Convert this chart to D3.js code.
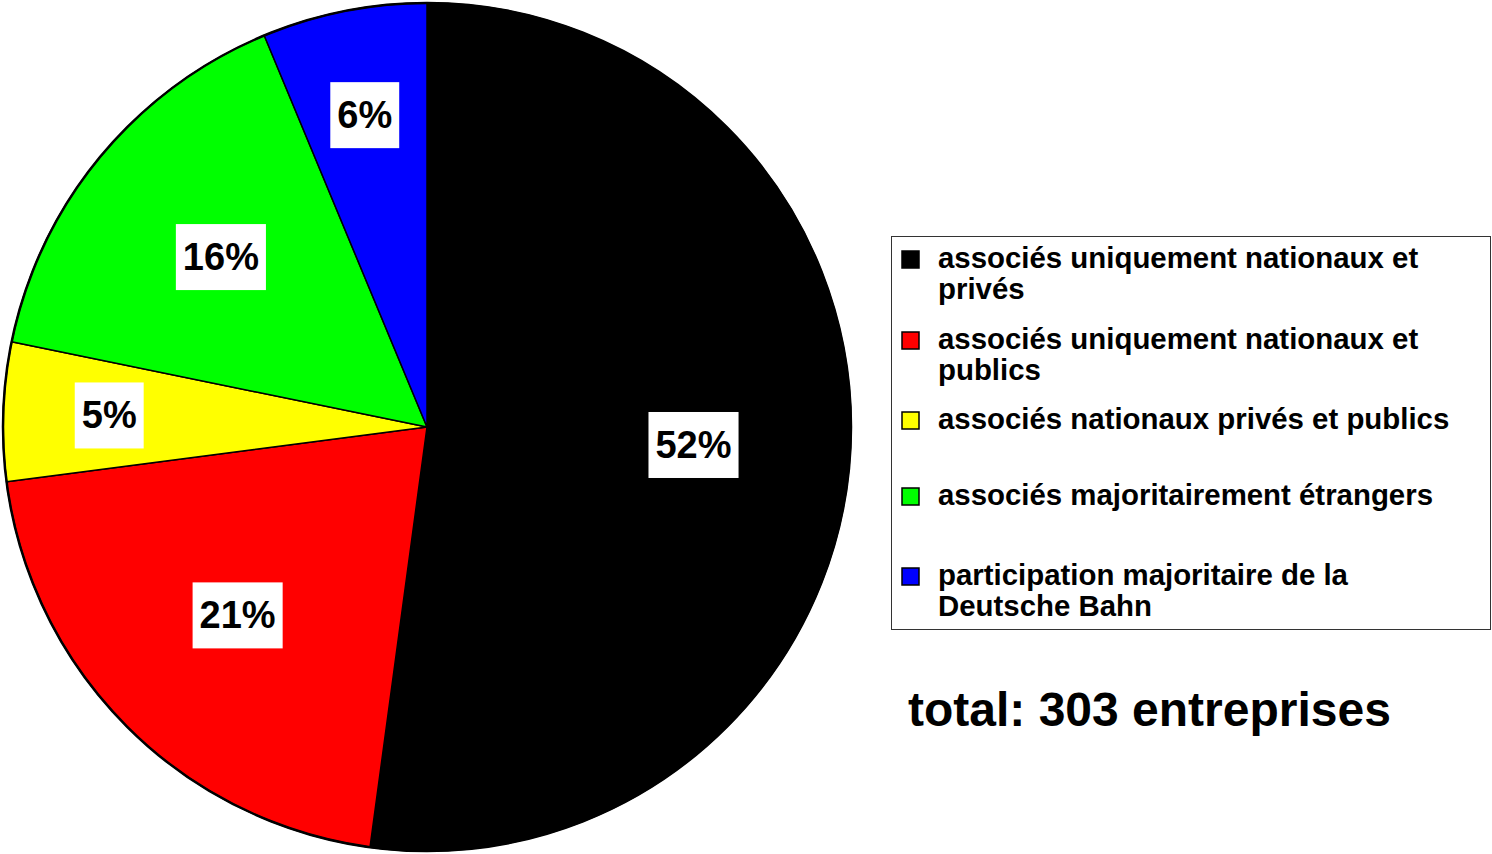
<!DOCTYPE html>
<html>
<head>
<meta charset="utf-8">
<script src="https://cdn.jsdelivr.net/npm/d3@7"></script>
<style>
  body { margin: 0; background: #fff; }
  svg { display: block; font-family: "Liberation Sans", Arial, sans-serif; font-weight: bold; }
</style>
</head>
<body>
<script>
// categories (legend lines), company counts, colours
var categories = [
  ["associés uniquement nationaux et", "privés"],
  ["associés uniquement nationaux et", "publics"],
  ["associés nationaux privés et publics"],
  ["associés majoritairement étrangers"],
  ["participation majoritaire de la", "Deutsche Bahn"]
];
var counts = [158, 63, 16, 47, 19];
var colors = ["#000000", "#ff0000", "#ffff00", "#00ff00", "#0000ff"];
var totalLabel = "total: 303 entreprises";

var w = 1492, h = 854;
var cx = 427, cy = 427, R = 424;

var svg = d3.select("body").append("svg")
  .attr("width", w)
  .attr("height", h);

var total = d3.sum(counts);
var data = counts.map(function (c, i) {
  return { count: c, color: colors[i], lines: categories[i], share: c / total };
});

var pie = d3.pie()
  .value(function (d) { return d.count; })
  .sort(null);

var arc = d3.arc().innerRadius(0).outerRadius(R);

var g = svg.append("g").attr("transform", "translate(" + cx + "," + cy + ")");

var slices = g.selectAll("g.slice")
  .data(pie(data))
  .enter()
  .append("g")
  .attr("class", "slice");

/* ===== SLICES ===== */
slices.append("path")
  .attr("d", arc)
  .attr("fill", function (d) { return d.data.color; })
  .attr("stroke", "#000")
  .attr("stroke-width", 1.5)
  .attr("stroke-linejoin", "round");

g.append("circle")
  .attr("r", R)
  .attr("fill", "none")
  .attr("stroke", "#000")
  .attr("stroke-width", 2.5);

/* ===== PERCENT LABELS ===== */
slices.each(function (d) {
  var rl = d.data.share < 0.1 ? R * 0.75 : R * 0.63;
  var pos = d3.arc().innerRadius(rl).outerRadius(rl).centroid(d);
  var sel = d3.select(this);
  var lg = sel.append("g").attr("transform", "translate(" + pos[0] + "," + pos[1] + ")");
  var box = lg.append("rect").attr("fill", "#fff");
  var t = lg.append("text")
    .text(Math.round(d.data.share * 100) + "%")
    .attr("text-anchor", "middle")
    .attr("y", 13)
    .attr("font-size", "38px")
    .attr("fill", "#000");
  var tw = t.node().getComputedTextLength();
  box.attr("x", -tw / 2 - 7)
    .attr("y", -33)
    .attr("width", tw + 14)
    .attr("height", 66);
});

/* ===== LEGEND ===== */
var legend = svg.append("g");
legend.append("rect")
  .attr("x", 891.5)
  .attr("y", 236.5)
  .attr("width", 599)
  .attr("height", 393)
  .attr("fill", "#fff")
  .attr("stroke", "#333")
  .attr("stroke-width", 1);

var rowY = [268, 349, 429, 505, 585];
var items = legend.selectAll("g.item")
  .data(data)
  .enter()
  .append("g")
  .attr("class", "item")
  .attr("transform", function (d, i) { return "translate(0," + rowY[i] + ")"; });

items.append("rect")
  .attr("x", 902)
  .attr("y", -17)
  .attr("width", 17)
  .attr("height", 17)
  .attr("fill", function (d) { return d.color; })
  .attr("stroke", "#000")
  .attr("stroke-width", 1.5);

items.append("text")
  .attr("x", 938)
  .attr("font-size", "29.4px")
  .attr("fill", "#000")
  .selectAll("tspan")
  .data(function (d) { return d.lines; })
  .enter()
  .append("tspan")
  .attr("x", 938)
  .attr("dy", function (d, i) { return i === 0 ? 0 : 31; })
  .text(function (d) { return d; });

/* ===== TOTAL ===== */
svg.append("text")
  .attr("x", 908)
  .attr("y", 726)
  .attr("font-size", "48px")
  .attr("fill", "#000")
  .text(totalLabel);
</script>
</body>
</html>
